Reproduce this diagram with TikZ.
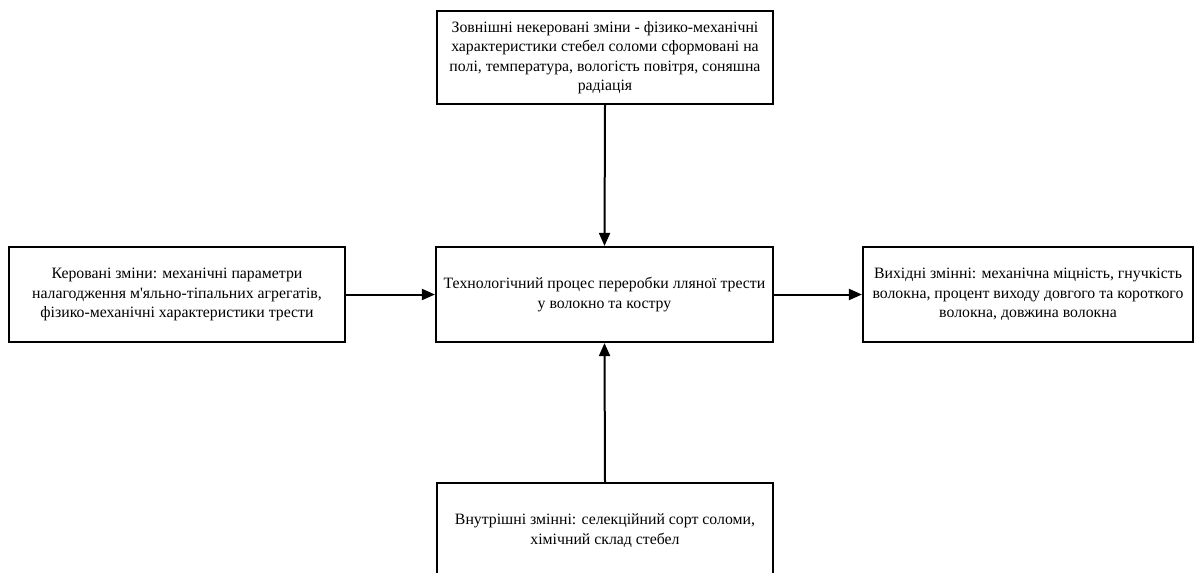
\documentclass[tikz,border=0pt]{standalone}
\usepackage{fontspec}
\setmainfont{Liberation Serif}
\usetikzlibrary{arrows.meta}
\begin{document}
\begin{tikzpicture}[x=1pt,y=-1pt,
  box/.style={draw=black, line width=2.2pt, fill=white, rectangle, align=center,
    font=\fontsize{15.8}{19.5}\selectfont, inner sep=0pt},
  conn/.style={line width=2pt, -{Triangle[length=13pt,width=11pt]}}]
\useasboundingbox (0,0) rectangle (1195,573);
\clip (0,0) rectangle (1195,573);
\node[box, minimum width=336pt, minimum height=93pt] (top) at (605,57.5)
  {Зовнішні некеровані зміни - фізико-механічні\\характеристики стебел соломи сформовані на\\полі, температура, вологість повітря, соняшна\\радіація};
\node[box, minimum width=336pt, minimum height=95pt] (left) at (177,294.5)
  {Керовані зміни: механічні параметри\\налагодження м\textquotesingle яльно-тіпальних агрегатів,\\фізико-механічні характеристики трести};
\node[box, minimum width=337pt, minimum height=95pt] (mid) at (604.5,294.5)
  {Технологічний процес переробки лляної трести\\у волокно та костру};
\node[box, minimum width=330pt, minimum height=95pt] (right) at (1028,294.5)
  {Вихідні змінні: механічна міцність, гнучкість\\волокна, процент виходу довгого та короткого\\волокна, довжина волокна};
\node[box, minimum width=336pt, minimum height=95pt] (bot) at (605,530.5)
  {Внутрішні змінні: селекційний сорт соломи,\\хімічний склад стебел};
\draw[conn] (top.south) -- (mid.north);
\draw[conn] (left.east) -- (mid.west);
\draw[conn] (mid.east) -- (right.west);
\draw[conn] (bot.north) -- (mid.south);
\end{tikzpicture}
\end{document}
